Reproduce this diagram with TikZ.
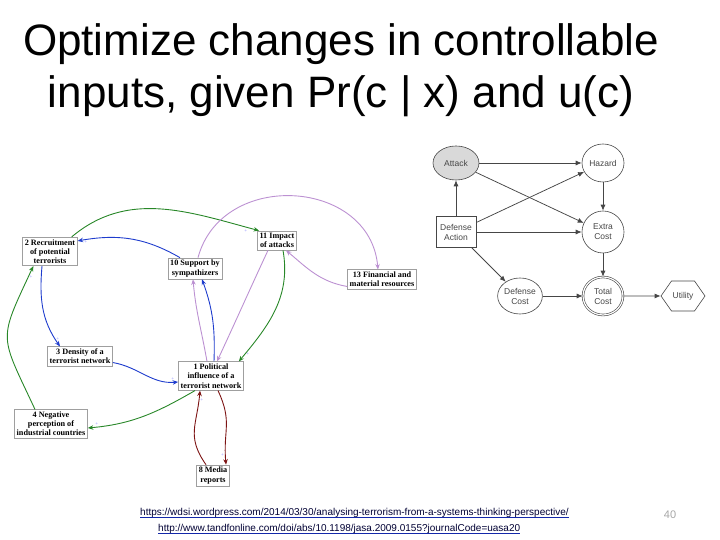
\documentclass[tikz,border=0pt]{standalone}
\usepackage{fontspec}
\setmainfont{Liberation Serif}
\setsansfont{Liberation Sans}
\usetikzlibrary{arrows.meta,shapes.geometric,shapes.symbols}
\definecolor{loopgreen}{RGB}{40,135,40}
\definecolor{loopblue}{RGB}{30,60,205}
\definecolor{loopviolet}{RGB}{188,145,210}
\definecolor{loopred}{RGB}{125,20,20}
\definecolor{idgray}{RGB}{70,70,70}
\definecolor{linkblue}{RGB}{20,40,170}
\begin{document}
\begin{tikzpicture}[x=1pt,y=1pt,
        factor/.style={draw=gray!75,line width=.6pt,fill=white,align=center,inner sep=2.2pt,
            font=\fontsize{8.2}{9.2}\selectfont\bfseries},
        loop/.style={line width=.9pt,-{Stealth[length=5.5pt,width=4.5pt]}},
        pmark/.style={font=\fontsize{5}{5}\selectfont,text=blue!45,inner sep=1pt},
        idnode/.style={draw=idgray,line width=.6pt,inner sep=0pt,align=center,text=idgray,
            font=\sffamily\fontsize{8.5}{10}\selectfont},
        chance/.style={idnode,ellipse,minimum width=42pt,minimum height=38pt},
        decision/.style={idnode,rectangle,minimum width=40pt,minimum height=31pt},
        infl/.style={draw=idgray,line width=.75pt,-{Latex[length=6pt,width=5pt]}},
        link/.style={anchor=base west,inner sep=0pt,text=black!80!blue,font=\sffamily\fontsize{10}{12}\selectfont}]
    \useasboundingbox (0,0) rectangle (720,540);
    % title
    \node[anchor=base,font=\sffamily\fontsize{44}{50}\selectfont] (title1) at (341,484) {Optimize changes in controllable};
    \node[anchor=base,font=\sffamily\fontsize{44}{50}\selectfont] (title2) at (341,432) {inputs, given Pr(c | x) and u(c)};
    % causal loop diagram
    \node[factor] (n2) at (50,288.5) {2 Recruitment\\of potential\\terrorists};
    \node[factor] (n10) at (195,271.5) {10 Support by\\sympathizers};
    \node[factor] (n11) at (277,299.5) {11 Impact\\of attacks};
    \node[factor] (n13) at (382,260.5) {13 Financial and\\material resources};
    \node[factor] (n3) at (80,183.5) {3 Density of a\\terrorist network};
    \node[factor] (n1) at (211,164) {1 Political\\influence of a\\terrorist network};
    \node[factor] (n4) at (51,116) {4 Negative\\perception of\\industrial countries};
    \node[factor] (n8) at (213,64.5) {8 Media\\reports};
    \draw[loop,loopgreen] ([xshift=-6pt]n2.north east) to[out=40,in=165] node[pmark,pos=.95,below left]{+} ([xshift=2pt]n11.north west);
    \draw[loop,loopgreen] ([xshift=-16pt]n4.north) to[out=115,in=245,looseness=1.5] node[pmark,pos=.95,right]{+} ([xshift=11pt]n2.south west);
    \draw[loop,loopgreen] ([xshift=6pt]n11.south) to[out=-80,in=50] node[pmark,pos=.93,right]{+} ([xshift=-5pt]n1.north east);
    \draw[loop,loopgreen] ([xshift=-16pt]n1.south) to[out=210,in=5] node[pmark,pos=.93,above]{+} ([yshift=-4pt]n4.east);
    \draw[loop,loopblue] ([xshift=-15pt]n10.north) to[out=150,in=10] node[pmark,pos=.93,below]{+} ([yshift=-4pt]n2.north east);
    \draw[loop,loopblue] ([xshift=-8pt]n2.south) to[out=-95,in=125] node[pmark,pos=.9,right]{+} ([xshift=-20pt]n3.north);
    \draw[loop,loopblue] ([yshift=4pt]n3.south east) to[out=-10,in=185] node[pmark,pos=.93,above]{+} ([yshift=-6pt]n1.west);
    \draw[loop,loopblue] ([xshift=3pt]n1.north) to[out=88,in=-70] ([xshift=7pt]n10.south);
    \draw[loop,loopviolet] ([xshift=-4pt]n1.north) to[out=100,in=-85] ([xshift=-2pt]n10.south);
    \draw[loop,loopviolet] ([xshift=3pt]n10.north) to[out=75,in=95,looseness=1.3] ([xshift=-4pt]n13.north);
    \draw[loop,loopviolet] ([xshift=-9pt]n11.south) to[out=-115,in=65] ([xshift=6pt]n1.north);
    \draw[loop,loopviolet] ([yshift=-7pt]n13.west) to[out=170,in=-40] ([xshift=9pt]n11.south);
    \draw[loop,loopred] ([xshift=-7pt]n8.north) to[out=125,in=-95,looseness=1.2] node[pmark,pos=.9,right]{+} ([xshift=-11pt]n1.south);
    \draw[loop,loopred] ([xshift=7pt]n1.south) to[out=-65,in=95,looseness=1.2] node[pmark,pos=.9,left]{+} ([xshift=13pt]n8.north);
    % influence diagram
    \node[chance,fill=gray!30,minimum width=46pt,minimum height=34pt] (attack) at (456,377) {Attack};
    \node[chance] (hazard) at (603,377) {Hazard};
    \node[decision] (defact) at (456,308) {Defense\\Action};
    \node[chance,minimum height=42pt] (extra) at (603,308) {Extra\\Cost};
    \node[chance,minimum height=36pt] (defcost) at (520,244) {Defense\\Cost};
    \node[chance,double,double distance=1.2pt,minimum width=40pt] (total) at (603,244) {Total\\Cost};
    \node[idnode,signal,signal to=west and east,signal pointer angle=110,minimum width=44pt,minimum height=30pt] (util) at (683,244) {Utility};
    \draw[infl] (attack) -- (hazard);
    \draw[infl] (attack) -- (extra);
    \draw[infl] (defact) -- (attack);
    \draw[infl] (defact) -- (hazard);
    \draw[infl] (defact) -- (extra);
    \draw[infl] (defact) -- (defcost);
    \draw[infl] (hazard) -- (extra);
    \draw[infl] (extra) -- (total);
    \draw[infl] (defcost) -- (total);
    \draw[infl] (total) -- (util);
    % sources
    \node[link] (url1) at (140,24) {https://wdsi.wordpress.com/2014/03/30/analysing-terrorism-from-a-systems-thinking-perspective/};
    \node[link] (url2) at (158,8) {http://www.tandfonline.com/doi/abs/10.1198/jasa.2009.0155?journalCode=uasa20};
    \draw[linkblue,line width=.6pt] ([yshift=-1.5pt]url1.base west) -- ([yshift=-1.5pt]url1.base east);
    \draw[linkblue,line width=.6pt] ([yshift=-1.5pt]url2.base west) -- ([yshift=-1.5pt]url2.base east);
    \node[anchor=base,text=gray!70,font=\sffamily\fontsize{11}{12}\selectfont] (page) at (670,21) {40};
\end{tikzpicture}
\end{document}
